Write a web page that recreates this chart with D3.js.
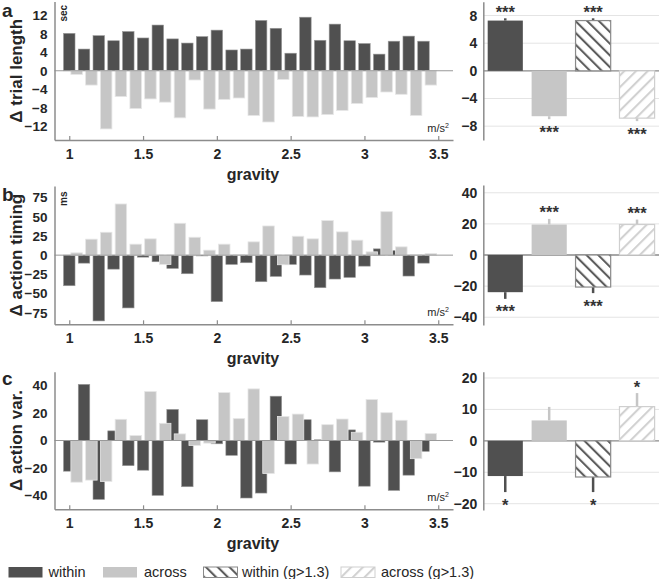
<!DOCTYPE html>
<html><head><meta charset="utf-8">
<script src="https://cdn.jsdelivr.net/npm/d3@7/dist/d3.min.js"></script>
<style>body{margin:0;background:#fff}svg{display:block;font-family:"Liberation Sans",Arial,sans-serif}</style>
</head><body><svg id="c" width="660" height="579"></svg>
<script>
// ---------- data ----------
const gWithin = [1.0,1.1,1.2,1.3,1.4,1.5,1.6,1.7,1.8,1.9,2.0,2.1,2.2,2.3,2.4,2.5,2.6,2.7,2.8,2.9,3.0,3.1,3.2,3.3,3.4];
const gAcross = [1.05,1.15,1.25,1.35,1.45,1.55,1.65,1.75,1.85,1.95,2.05,2.15,2.25,2.35,2.45,2.55,2.65,2.75,2.85,2.95,3.05,3.15,3.25,3.35,3.45];
const gravityTicks = [1,1.5,2,2.5,3,3.5];

const trialWithin = [8.1,4.7,7.6,6.5,8.5,7.1,9.9,6.9,6.0,7.4,8.8,4.5,4.7,10.9,9.2,3.8,11.6,6.6,10.1,6.5,5.9,3.6,6.4,7.5,6.4];
const trialAcross = [-0.8,-3.1,-12.6,-5.6,-8.2,-6.1,-6.8,-10.2,-2.0,-8.3,-6.2,-5.9,-9.7,-11.1,-1.9,-9.9,-10.0,-9.5,-8.6,-7.1,-5.8,-4.6,-5.1,-9.7,-3.1];

const timingWithin = [-39.8,-10.4,-85.6,-18.2,-68.7,-2.6,-8.6,-17.3,-24.2,-1.0,-60.5,-12.1,-9.9,-34.6,-27.7,-12.1,-25.9,-42.4,-31.1,-29.0,-14.3,8.2,6.0,-27.2,-10.4];
const timingAcross = [3.0,20.8,29.8,66.6,14.3,21.2,-12.1,41.5,23.3,6.5,14.3,0.5,17.3,38.0,-12.5,24.6,21.2,45.0,30.3,19.5,4.3,56.6,10.8,0.5,2.2];

const varWithin = [-22.3,40.8,-42.8,7.0,-18.3,-21.6,-39.9,22.6,-33.6,15.1,-2.4,-10.8,-41.8,-38.2,32.2,-17.1,15.1,0.5,-22.8,7.7,-33.2,-1.2,-36.3,-25.2,-7.9];
const varAcross = [-30.3,-28.8,-29.8,15.4,3.6,35.6,12.5,4.8,-3.6,-1.9,34.8,15.9,37.5,-24.0,17.5,19.2,-17.1,11.5,15.6,6.0,29.8,20.2,14.7,-13.2,5.0];

const summaryCats = ["within","across","within (g>1.3)","across (g>1.3)"];
const trialMean = [7.27,-6.56,7.27,-6.84];
const trialErr  = [0.33,0.43,0.33,0.43];
const timingMean = [-23.9,19.6,-20.6,19.6];
const timingErr  = [4.3,3.6,3.9,3.2];
const varMean = [-11.2,6.5,-11.5,10.9];
const varErr  = [5.1,4.3,4.8,4.3];
const trialStars  = ["***","***","***","***"];
const timingStars = ["***","***","***","***"];
const varStars    = ["*","","*","*"];

const panelLetters = ["a","b","c"];
const yLabels = ["\u0394 trial length","\u0394 action timing","\u0394 action var."];
const unitLabels = ["sec","ms",""];
const leftTicks = [[-12,-8,-4,0,4,8,12],[-75,-50,-25,0,25,50,75],[-40,-20,0,20,40]];
const rightTicks = [[-8,-4,0,4,8],[-40,-20,0,20,40],[-20,-10,0,10,20]];

// ---------- styles ----------
const DARK = "#505050", LIGHT = "#c6c6c6", AXIS = "#8c8c8c", TXT = "#262626";

const svg = d3.select("#c");
const defs = svg.append("defs");
function hatch(id, angle, color) {
  const p = defs.append("pattern").attr("id", id).attr("patternUnits","userSpaceOnUse")
    .attr("width", 8.3).attr("height", 8.3).attr("patternTransform", `rotate(${angle})`);
  p.append("rect").attr("width",8.3).attr("height",8.3).attr("fill","#fff");
  p.append("line").attr("x1",2).attr("x2",2).attr("y1",0).attr("y2",8.3)
    .attr("stroke", color).attr("stroke-width", 2);
}
hatch("hWithin", -45, "#555");
hatch("hAcross", 45, "#cfcfcf");
const fills = [DARK, LIGHT, "url(#hWithin)", "url(#hAcross)"];
const strokes = ["none", "none", "#8a8a8a", "#cfcfcf"];
const errColors = [DARK, LIGHT, DARK, LIGHT];

const panels = [
  {top:1.5, bottom:140, rTop:1.7, rBottom:140, domL:[-15,15], domR:[-10,10],
   within:trialWithin, across:trialAcross, mean:trialMean, err:trialErr, stars:trialStars},
  {top:186, bottom:324.3, rTop:185, rBottom:325, domL:[-90,90], domR:[-45,45],
   within:timingWithin, across:timingAcross, mean:timingMean, err:timingErr, stars:timingStars},
  {top:371.7, bottom:509.3, rTop:371.7, rBottom:510, domL:[-50,50], domR:[-22,22],
   within:varWithin, across:varAcross, mean:varMean, err:varErr, stars:varStars}
];

const x = d3.scaleLinear().domain([0.9,3.6]).range([54.5,453]);
const bw = x(1.039) - x(0.961);
const xb = d3.scaleBand().domain(summaryCats).range([483.3,659]).paddingInner(0.2).paddingOuter(0.1);

panels.forEach((P, i) => {
  const g = svg.append("g");
  const y = d3.scaleLinear().domain(P.domL).range([P.bottom, P.top]);
  const bars = g.append("g");
  bars.selectAll(".w").data(P.within).join("rect")
    .attr("x", (d,k) => x(gWithin[k]) - bw/2).attr("width", bw)
    .attr("y", d => y(Math.max(0,d))).attr("height", d => Math.abs(y(d)-y(0)))
    .attr("fill", DARK).attr("stroke", "#9a9a9a").attr("stroke-width", 0.6);
  bars.selectAll(".a").data(P.across).join("rect")
    .attr("x", (d,k) => x(gAcross[k]) - bw/2).attr("width", bw)
    .attr("y", d => y(Math.max(0,d))).attr("height", d => Math.abs(y(d)-y(0)))
    .attr("fill", LIGHT).attr("stroke", "#e6e6e6").attr("stroke-width", 0.8);
  g.append("line").attr("x1", x.range()[0]).attr("x2", x.range()[1])
    .attr("y1", y(0)).attr("y2", y(0)).attr("stroke", "#999").attr("stroke-width", 1);
  const ya = g.append("g").attr("transform", `translate(${x.range()[0]},0)`)
    .call(d3.axisLeft(y).tickValues(leftTicks[i]).tickSize(0).tickPadding(7).tickFormat(d3.format("d")));
  ya.select(".domain").attr("stroke", AXIS).attr("stroke-width", 1.5);
  ya.selectAll("text").attr("font-size", 13.5).attr("font-weight", "bold").attr("fill", TXT)
    .attr("font-family", "Liberation Sans, Arial, sans-serif");
  const xa = g.append("g").attr("transform", `translate(0,${P.bottom})`)
    .call(d3.axisBottom(x).tickValues(gravityTicks).tickSizeInner(-4).tickSizeOuter(0).tickPadding(9).tickFormat(d => d));
  xa.select(".domain").attr("stroke", AXIS).attr("stroke-width", 1.5);
  xa.selectAll(".tick line").attr("stroke", AXIS).attr("stroke-width", 1.2);
  xa.selectAll("text").attr("font-size", 14).attr("font-weight", "bold").attr("fill", TXT)
    .attr("font-family", "Liberation Sans, Arial, sans-serif");
  g.append("text").attr("x", 253).attr("y", P.bottom + 39.5).attr("text-anchor","middle")
    .attr("font-size", 16).attr("font-weight","bold").attr("fill", TXT).text("gravity");
  g.append("text").attr("x", 449).attr("y", P.bottom - 8).attr("text-anchor","end")
    .attr("font-size", 11).attr("fill", TXT).html("m/s<tspan font-size='7' dy='-4'>2</tspan>");
  g.append("text").attr("transform", `translate(22,${(P.top+P.bottom)/2}) rotate(-90)`)
    .attr("text-anchor","middle").attr("font-size", 17).attr("font-weight","bold").attr("fill", TXT)
    .text(yLabels[i]);
  if (unitLabels[i]) g.append("text").attr("transform", `translate(66.5,${P.top+20}) rotate(-90)`)
    .attr("font-size", 10).attr("font-weight","bold").attr("fill", TXT).text(unitLabels[i]);
  g.append("text").attr("x", 2).attr("y", [16.7,200.7,385][i]).attr("font-size", 19)
    .attr("font-weight","bold").attr("fill", TXT).text(panelLetters[i]);

  // ---- right summary panel ----
  const yr = d3.scaleLinear().domain(P.domR).range([P.rBottom, P.rTop]);
  const r = svg.append("g");
  r.selectAll(".grid").data(rightTicks[i]).join("line")
    .attr("x1", 483.3).attr("x2", 659).attr("y1", d => yr(d)).attr("y2", d => yr(d))
    .attr("stroke", d => d === 0 ? "#8a8a8a" : "#e4e4e4").attr("stroke-width", d => d===0 ? 1.3 : 1);
  r.selectAll(".err").data(P.mean).join("line")
    .attr("x1", (d,k) => xb(summaryCats[k]) + xb.bandwidth()/2)
    .attr("x2", (d,k) => xb(summaryCats[k]) + xb.bandwidth()/2)
    .attr("y1", d => yr(d)).attr("y2", (d,k) => yr(d + Math.sign(d)*P.err[k]))
    .attr("stroke", (d,k) => errColors[k]).attr("stroke-width", 2.5);
  r.selectAll(".bar").data(P.mean).join("rect")
    .attr("x", (d,k) => xb(summaryCats[k])).attr("width", xb.bandwidth())
    .attr("y", d => yr(Math.max(0,d))).attr("height", d => Math.abs(yr(d)-yr(0)))
    .attr("fill", (d,k) => fills[k]).attr("stroke", (d,k) => strokes[k]).attr("stroke-width", 1.2);
  r.selectAll(".star").data(P.mean).join("text")
    .attr("x", (d,k) => xb(summaryCats[k]) + xb.bandwidth()/2)
    .attr("y", (d,k) => {
      const e = yr(d + Math.sign(d)*P.err[k]);
      return (d > 0 ? e - 10 : e + 9) + 9.5;
    })
    .attr("text-anchor","middle").attr("font-size", 16.5).attr("font-weight","bold").attr("fill", "#333")
    .text((d,k) => P.stars[k]);
  const ra = r.append("g").attr("transform","translate(483.3,0)")
    .call(d3.axisLeft(yr).tickValues(rightTicks[i]).tickSize(0).tickPadding(6).tickFormat(d3.format("d")));
  ra.select(".domain").attr("stroke", AXIS).attr("stroke-width", 1.5);
  ra.selectAll("text").attr("font-size", 14).attr("font-weight","bold").attr("fill", TXT)
    .attr("font-family", "Liberation Sans, Arial, sans-serif");
});

// ---------- legend ----------
const legX = [8.5, 103, 203.5, 341];
const legTx = [48.5, 144, 242, 381];
const leg = svg.append("g");
summaryCats.forEach((c,k) => {
  leg.append("rect").attr("x", legX[k]).attr("y", 567).attr("width", 34).attr("height", 10.5)
    .attr("fill", fills[k]).attr("stroke", strokes[k]).attr("stroke-width", 1);
  leg.append("text").attr("x", legTx[k]).attr("y", 577)
    .attr("font-size", 14.5).attr("fill", TXT).text(c);
});
</script></body></html>
